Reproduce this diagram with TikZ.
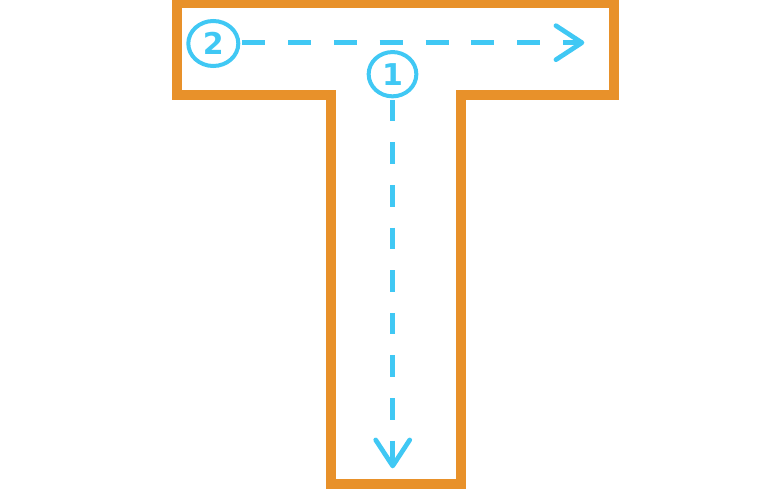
\documentclass[tikz,border=0pt]{standalone}
\usepackage{fontspec}
\setsansfont{DejaVu Sans}
\usetikzlibrary{shapes.geometric,arrows.meta}
\definecolor{tOrange}{HTML}{E8912A}
\definecolor{tBlue}{HTML}{40C8F4}
\begin{document}
\begin{tikzpicture}[
    x=1pt, y=-1pt,
    every node/.style={align=center},
    t outline/.style={draw=tOrange, line width=10pt, miter limit=10},
    step circle/.style={ellipse, draw=tBlue, line width=4pt, inner sep=0pt, text=tBlue, font=\sffamily\bfseries\fontsize{30}{30}\selectfont},
    dashed arrow/.style={draw=tBlue, line width=4.7pt, -{Straight Barb[round, length=26pt, width=34pt]}},
    ]
\useasboundingbox (0,0) rectangle (759,489);
\draw[t outline] (177,3) -- (614.3,3) -- (614.3,95) -- (460.7,95) -- (460.7,484)
    -- (330.7,484) -- (330.7,95) -- (177,95) -- cycle;
\node[step circle, minimum width=50pt, minimum height=45pt] (two) at (213.3,43.5) {2};
\node[step circle, minimum width=47.7pt, minimum height=44.3pt] (one) at (392.5,74.2) {1};
\coordinate (twoEnd) at (584.3,42.7);
\coordinate (oneEnd) at (392.7,468.3);
\draw[dashed arrow, dash pattern=on 23pt off 22.8pt, shorten <=2pt] (two.east |- twoEnd) -- (twoEnd);
\draw[dashed arrow, dash pattern=on 21.5pt off 21.1pt, shorten <=1.5pt] (one.south -| oneEnd) -- (oneEnd);
\end{tikzpicture}
\end{document}
